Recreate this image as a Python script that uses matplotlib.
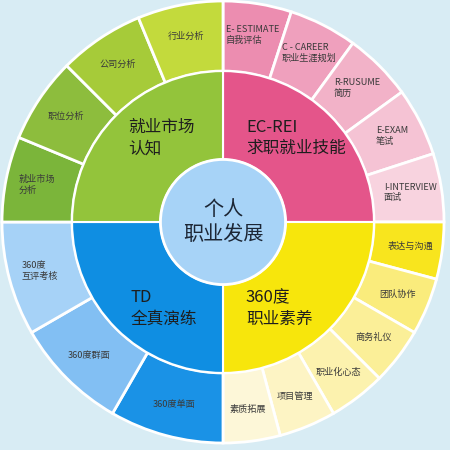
import matplotlib
matplotlib.use("Agg")
import matplotlib.pyplot as plt
import numpy as np

plt.rcParams['font.family'] = ['Noto Sans CJK SC', 'DejaVu Sans']

# ---- data ----
center_label = "个人\n职业发展"
inner_labels = ["EC-REI\n求职就业技能", "360度\n职业素养", "TD\n全真演练", "就业市场\n认知"]
inner_values = [90, 90, 90, 90]          # angular span (deg) of each quadrant
inner_colors = ["#e4558a", "#f7e60c", "#0f8ee2", "#93c43b"]

outer_labels = [
    "E- ESTIMATE\n自我评估", "C - CAREER\n职业生涯规划", "R-RUSUME\n简历", "E-EXAM\n笔试", "I-INTERVIEW\n面试",
    "表达与沟通", "团队协作", "商务礼仪", "职业化心态", "项目管理", "素质拓展",
    "360度单面", "360度群面", "360度\n互评考核",
    "就业市场\n分析", "职位分析", "公司分析", "行业分析",
]
outer_values = [18, 18, 18, 18, 18,
                15, 15, 15, 15, 15, 15,
                30, 30, 30,
                22.5, 22.5, 22.5, 22.5]
outer_colors = [
    "#ec8db0", "#efa0bd", "#f2b2c8", "#f5c3d4", "#f8d3df",
    "#f8e51e", "#faec7c", "#fbef98", "#fcf2ae", "#fdf4c4", "#fdf7d8",
    "#1a92e6", "#82bff3", "#a6d2f7",
    "#7bb53a", "#8dbd3d", "#a6cb39", "#c3da3c",
]

# ---- figure ----
bg = "#d8ecf4"
fig = plt.figure(figsize=(4.5, 4.5), dpi=100, facecolor=bg)
ax = fig.add_axes([0, 0, 1, 1])
ax.set_facecolor(bg)

R_out = 1.0
R_mid = 0.683
R_in = 0.283

wedges_o, _ = ax.pie(outer_values, radius=R_out, startangle=90, counterclock=False,
                     colors=outer_colors,
                     wedgeprops=dict(width=R_out - R_mid, edgecolor="white", linewidth=2))
wedges_i, _ = ax.pie(inner_values, radius=R_mid, startangle=90, counterclock=False,
                     colors=inner_colors,
                     wedgeprops=dict(width=R_mid - R_in, edgecolor="white", linewidth=1.5))
ax.pie([1], radius=R_in, colors=["#a7d3f7"],
       wedgeprops=dict(edgecolor="white", linewidth=2))

# outer labels at mid-angle
r_lab = 0.857
for w, lab in zip(wedges_o, outer_labels):
    ang = np.deg2rad((w.theta1 + w.theta2) / 2)
    ax.text(r_lab * np.cos(ang), r_lab * np.sin(ang), lab, ha="center", va="center",
            multialignment="left", fontsize=6.6, color="#3a3a3a", linespacing=1.2)

# inner labels
inner_pos = [(0.104, 0.38), (0.104, -0.39), (-0.42, -0.39), (-0.43, 0.38)]
for (x, y), lab in zip(inner_pos, inner_labels):
    ax.text(x, y, lab, ha="left", va="center", fontsize=12, color="#1e1e1e",
            linespacing=1.35)

ax.text(0, 0, center_label, ha="center", va="center", fontsize=14.5,
        color="#1c2635", linespacing=1.3)

ax.set_aspect("equal")
ax.set_xlim(-223 / 221, 227 / 221)
ax.set_ylim(-228 / 221, 222 / 221)
ax.axis("off")

fig.savefig("out.png", dpi=100, facecolor=bg)
